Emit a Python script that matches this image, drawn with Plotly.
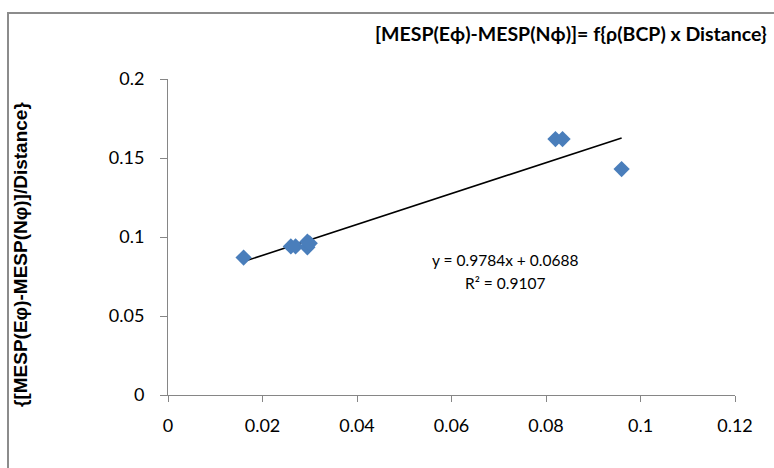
import plotly.graph_objects as go

# Data
x_vals = [0.016, 0.026, 0.027, 0.0295, 0.0295, 0.030, 0.082, 0.0835, 0.096]
y_vals = [0.087, 0.094, 0.094, 0.0935, 0.097, 0.096, 0.162, 0.162, 0.143]

slope = 0.9784
intercept = 0.0688
eq_text = "y = 0.9784x + 0.0688"
r2_text = "R² = 0.9107"

x_ticks = [0, 0.02, 0.04, 0.06, 0.08, 0.1, 0.12]
x_ticktext = ["0", "0.02", "0.04", "0.06", "0.08", "0.1", "0.12"]
y_ticks = [0, 0.05, 0.1, 0.15, 0.2]
y_ticktext = ["0", "0.05", "0.1", "0.15", "0.2"]

title_text = "[MESP(Eϕ)-MESP(Nϕ)]= f{ρ(BCP) x Distance}"
ytitle_text = "{[MESP(Eφ)-MESP(Nφ)]/Distance}"

W, H = 774, 468
L, R, T, B = 168, 39, 79, 73
pw, ph = W - L - R, H - T - B

def px(xp):
    return (xp - L) / pw

def py(yp):
    return (H - B - yp) / ph

trend_x = [min(x_vals), max(x_vals)]
trend_y = [slope * v + intercept for v in trend_x]

fig = go.Figure()
fig.add_trace(go.Scatter(x=trend_x, y=trend_y, mode="lines",
                         line=dict(color="black", width=1.6), showlegend=False))
fig.add_trace(go.Scatter(x=x_vals, y=y_vals, mode="markers",
                         marker=dict(symbol="diamond", size=12.5, color="#4A7EBB",
                                     line=dict(width=0)),
                         showlegend=False))

tickfont = dict(family="Lato, Calibri, sans-serif", size=18, color="#000000")
fig.update_layout(
    width=W, height=H,
    margin=dict(l=L, r=R, t=T, b=B),
    paper_bgcolor="white", plot_bgcolor="white",
    xaxis=dict(range=[0, 0.12], tickvals=x_ticks, ticktext=x_ticktext,
               showgrid=False, zeroline=False, showline=True, linecolor="#868686",
               linewidth=1, ticks="outside", ticklen=6, tickcolor="#868686",
               tickfont=tickfont, ticklabelstandoff=8),
    yaxis=dict(range=[0, 0.2], tickvals=y_ticks, ticktext=y_ticktext,
               showgrid=False, zeroline=False, showline=True, linecolor="#868686",
               linewidth=1, ticks="outside", ticklen=7, tickcolor="#868686",
               tickfont=tickfont, ticklabelstandoff=12),
)

# chart area border
fig.add_shape(type="rect", xref="paper", yref="paper",
              x0=px(8), x1=px(780), y0=py(475), y1=py(13),
              line=dict(color="#8C8C8C", width=2), fillcolor="rgba(0,0,0,0)", layer="below")

fig.add_annotation(text="<b>" + title_text + "</b>", xref="paper", yref="paper",
                   x=px(571), y=py(34), xanchor="center", yanchor="middle",
                   showarrow=False, font=dict(family="Lato, Calibri, sans-serif", size=19.5, color="black"))
fig.add_annotation(text="<b>" + ytitle_text + "</b>", xref="paper", yref="paper",
                   x=px(20), y=py(255), xanchor="center", yanchor="middle", textangle=-90,
                   showarrow=False, font=dict(family="Liberation Sans, Arial, sans-serif", size=19, color="black"))
fig.add_annotation(text=eq_text, xref="paper", yref="paper",
                   x=px(505), y=py(260), xanchor="center", yanchor="middle",
                   showarrow=False, font=dict(family="Lato, Calibri, sans-serif", size=15.5, color="black"))
fig.add_annotation(text=r2_text, xref="paper", yref="paper",
                   x=px(505), y=py(283), xanchor="center", yanchor="middle",
                   showarrow=False, font=dict(family="Lato, Calibri, sans-serif", size=15.5, color="black"))

fig.write_html("out.html")
